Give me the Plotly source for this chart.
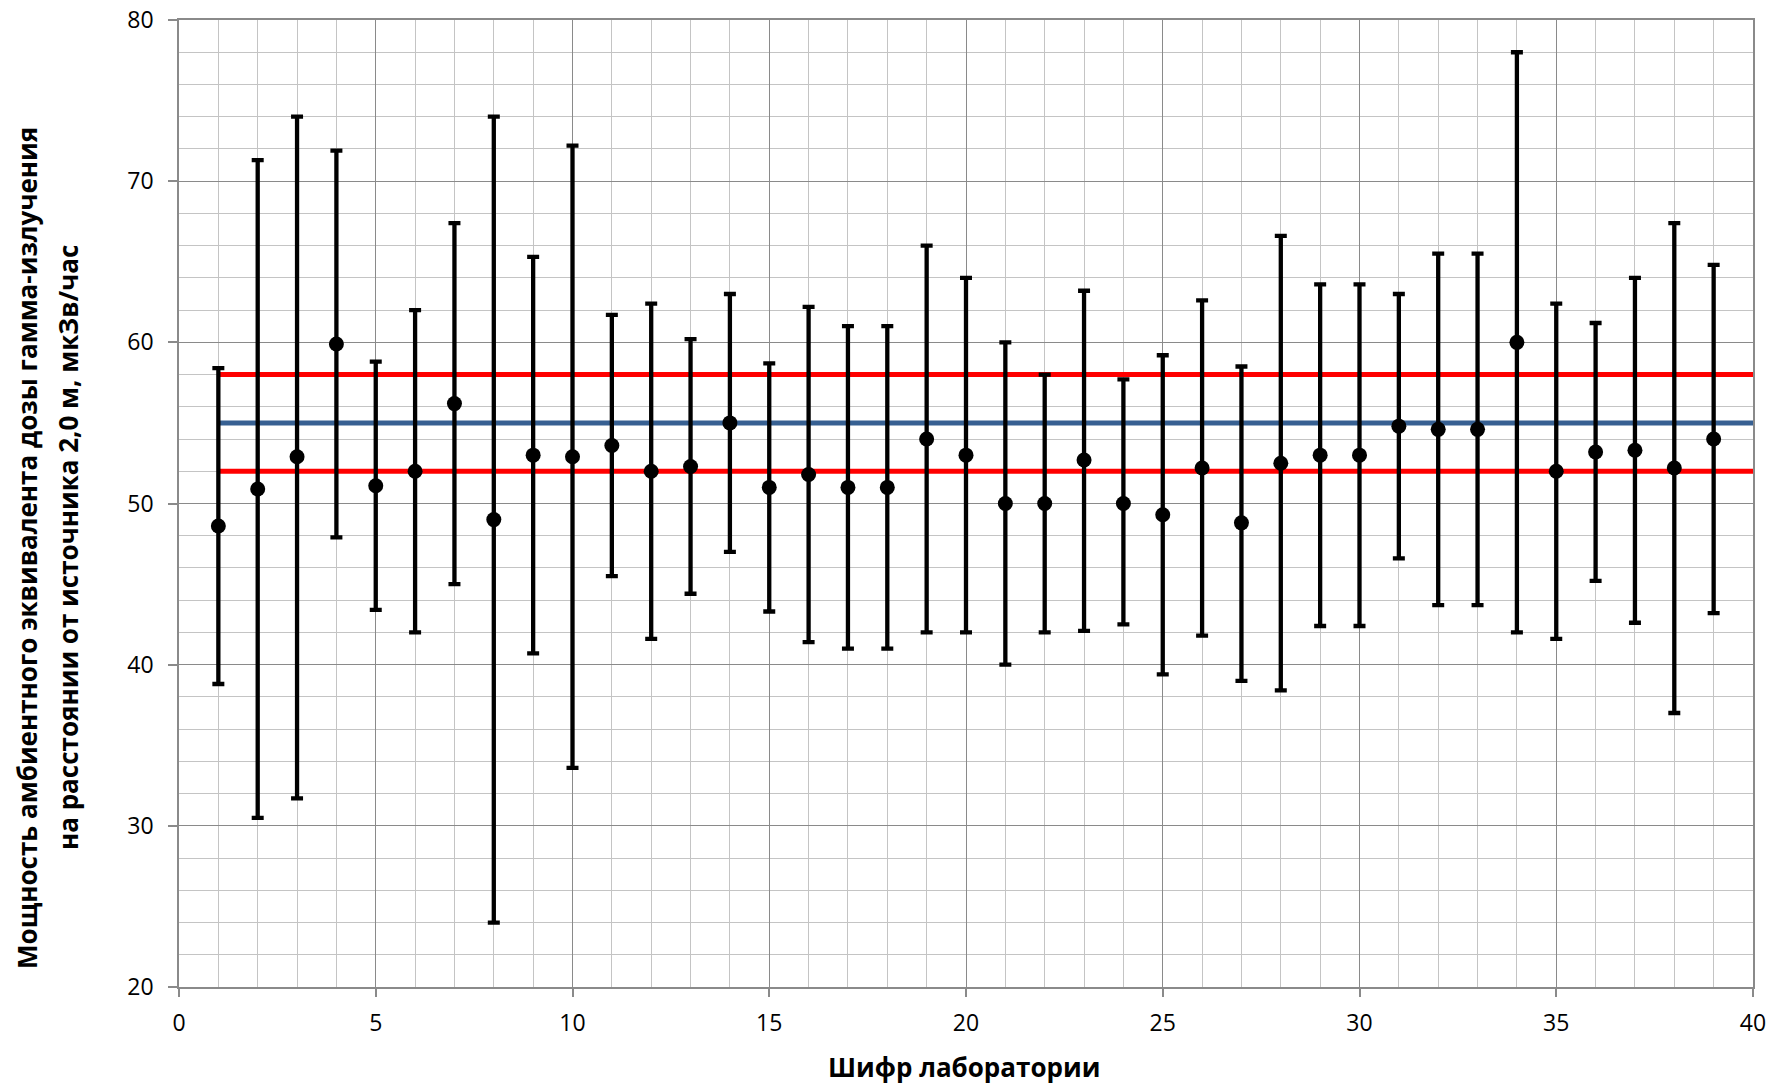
import plotly.graph_objects as go

labs = list(range(1, 40))
values = [48.6, 50.9, 52.9, 59.9, 51.1, 52.0, 56.2, 49.0, 53.0, 52.9,
          53.6, 52.0, 52.3, 55.0, 51.0, 51.8, 51.0, 51.0, 54.0, 53.0,
          50.0, 50.0, 52.7, 50.0, 49.3, 52.2, 48.8, 52.5, 53.0, 53.0,
          54.8, 54.6, 54.6, 60.0, 52.0, 53.2, 53.3, 52.2, 54.0]
upper = [58.4, 71.3, 74.0, 71.9, 58.8, 62.0, 67.4, 74.0, 65.3, 72.2,
         61.7, 62.4, 60.2, 63.0, 58.7, 62.2, 61.0, 61.0, 66.0, 64.0,
         60.0, 58.0, 63.2, 57.7, 59.2, 62.6, 58.5, 66.6, 63.6, 63.6,
         63.0, 65.5, 65.5, 78.0, 62.4, 61.2, 64.0, 67.4, 64.8]
lower = [38.8, 30.5, 31.7, 47.9, 43.4, 42.0, 45.0, 24.0, 40.7, 33.6,
         45.5, 41.6, 44.4, 47.0, 43.3, 41.4, 41.0, 41.0, 42.0, 42.0,
         40.0, 42.0, 42.1, 42.5, 39.4, 41.8, 39.0, 38.4, 42.4, 42.4,
         46.6, 43.7, 43.7, 42.0, 41.6, 45.2, 42.6, 37.0, 43.2]

ref_x = [1, 40]
ref_upper = 58
ref_mean = 55
ref_lower = 52

err_plus = [u - v for u, v in zip(upper, values)]
err_minus = [v - l for v, l in zip(values, lower)]

fig = go.Figure()

fig.add_trace(go.Scatter(x=ref_x, y=[ref_upper] * 2, mode="lines",
                         line=dict(color="#FF0000", width=5), showlegend=False))
fig.add_trace(go.Scatter(x=ref_x, y=[ref_lower] * 2, mode="lines",
                         line=dict(color="#FF0000", width=5), showlegend=False))
fig.add_trace(go.Scatter(x=ref_x, y=[ref_mean] * 2, mode="lines",
                         line=dict(color="#376092", width=5), showlegend=False))

fig.add_trace(go.Scatter(
    x=labs, y=values, mode="markers",
    marker=dict(color="black", size=15, symbol="circle"),
    error_y=dict(type="data", symmetric=False, array=err_plus, arrayminus=err_minus,
                 color="black", thickness=4.3, width=6),
    showlegend=False))

font_family = "Open Sans"

fig.update_layout(
    width=1785, height=1086,
    margin=dict(l=179, r=32, t=20, b=99, autoexpand=False),
    paper_bgcolor="white", plot_bgcolor="white",
    font=dict(family=font_family, color="black", size=23),
    xaxis=dict(range=[0, 40], dtick=5, tick0=0, automargin=False,
               showgrid=True, gridcolor="#8A8A8A", gridwidth=1.3,
               minor=dict(dtick=1, showgrid=True, gridcolor="#C4C4C4", gridwidth=1.3),
               showline=True, linecolor="#8A8A8A", linewidth=1.5, mirror=True,
               ticks="outside", ticklen=8, tickcolor="#8A8A8A", tickwidth=1.5,
               ticklabelstandoff=7,
               zeroline=False, tickfont=dict(size=23, family=font_family)),
    yaxis=dict(range=[20, 80], dtick=10, tick0=20, automargin=False,
               showgrid=True, gridcolor="#8A8A8A", gridwidth=1.3,
               minor=dict(dtick=2, showgrid=True, gridcolor="#C4C4C4", gridwidth=1.3),
               showline=True, linecolor="#8A8A8A", linewidth=1.5, mirror=True,
               ticks="outside", ticklen=9, tickcolor="#8A8A8A", tickwidth=1.5,
               ticklabelstandoff=10,
               zeroline=False, tickfont=dict(size=23, family=font_family)),
)

fig.add_annotation(text="<b>Шифр лаборатории</b>", xref="paper", yref="paper",
                   x=0.4987, y=-0.0828, xanchor="center", yanchor="middle",
                   showarrow=False, font=dict(size=26, family=font_family, color="black"))
fig.add_annotation(text="<b>Мощность амбиентного эквивалента дозы гамма-излучения</b>",
                   xref="paper", yref="paper", x=-0.0966, y=0.454,
                   xanchor="center", yanchor="middle", textangle=-90,
                   showarrow=False, font=dict(size=26, family=font_family, color="black"))
fig.add_annotation(text="<b>на расстоянии от источника 2,0 м, мкЗв/час</b>",
                   xref="paper", yref="paper", x=-0.0705, y=0.454,
                   xanchor="center", yanchor="middle", textangle=-90,
                   showarrow=False, font=dict(size=26, family=font_family, color="black"))

fig.write_html("out.html")
